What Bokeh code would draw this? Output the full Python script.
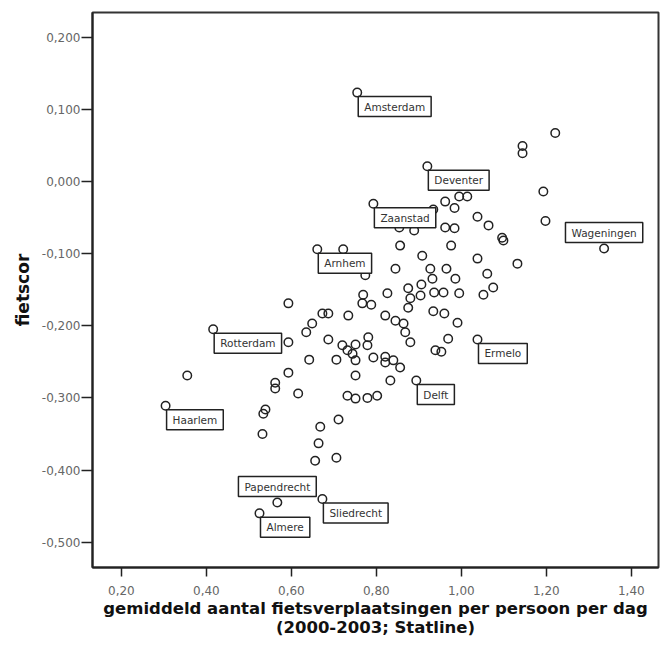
from bokeh.plotting import figure
from bokeh.models import ColumnDataSource, FixedTicker
from bokeh.core.properties import value
from bokeh.embed import file_html
from bokeh.resources import INLINE

# ---- data ----
x_ticks = [0.20, 0.40, 0.60, 0.80, 1.00, 1.20, 1.40]
x_tick_labels = ["0,20", "0,40", "0,60", "0,80", "1,00", "1,20", "1,40"]
y_ticks = [0.2, 0.1, 0.0, -0.1, -0.2, -0.3, -0.4, -0.5]
y_tick_labels = ["0,200", "0,100", "0,000", "-0,100", "-0,200", "-0,300", "-0,400", "-0,500"]

named_city = ["Amsterdam", "Deventer", "Zaanstad", "Wageningen", "Arnhem", "Rotterdam",
              "Haarlem", "Papendrecht", "Sliedrecht", "Almere", "Delft", "Ermelo"]
named_x = [0.755, 0.920, 0.793, 1.336, 0.661, 0.416, 0.304, 0.567, 0.673, 0.525, 0.894, 1.038]
named_y = [0.123, 0.021, -0.031, -0.093, -0.094, -0.205, -0.311, -0.445, -0.440, -0.460, -0.276, -0.219]

other_x = [1.221, 1.144, 1.144, 1.193, 1.198, 0.962, 0.995, 1.014, 0.984, 0.934,
           0.854, 0.889, 0.962, 0.984, 1.038, 1.064, 1.096, 1.099, 0.856, 0.976,
           0.908, 1.038, 1.132, 0.845, 0.927, 0.965, 0.932, 0.986, 1.061, 1.075,
           1.052, 0.906, 0.875, 0.904, 0.880, 0.936, 0.958, 0.995, 0.826, 0.769,
           0.767, 0.788, 0.875, 0.821, 0.845, 0.864, 0.868, 0.880, 0.934, 0.960,
           0.991, 0.969, 0.939, 0.953, 0.781, 0.779, 0.793, 0.821, 0.821, 0.840,
           0.856, 0.833, 0.732, 0.751, 0.779, 0.802, 0.722, 0.774, 0.593, 0.673,
           0.687, 0.734, 0.649, 0.635, 0.593, 0.687, 0.720, 0.732, 0.744, 0.751,
           0.751, 0.642, 0.706, 0.751, 0.593, 0.562, 0.562, 0.616, 0.355, 0.539,
           0.534, 0.532, 0.668, 0.711, 0.664, 0.656, 0.706]
other_y = [0.067, 0.049, 0.039, -0.014, -0.055, -0.028, -0.021, -0.021, -0.037, -0.039,
           -0.064, -0.068, -0.064, -0.065, -0.049, -0.061, -0.078, -0.082, -0.089, -0.089,
           -0.103, -0.107, -0.114, -0.121, -0.121, -0.121, -0.135, -0.135, -0.128, -0.147,
           -0.157, -0.143, -0.148, -0.158, -0.162, -0.154, -0.154, -0.155, -0.155, -0.157,
           -0.169, -0.171, -0.175, -0.186, -0.193, -0.197, -0.209, -0.223, -0.180, -0.183,
           -0.196, -0.218, -0.234, -0.236, -0.216, -0.227, -0.244, -0.243, -0.251, -0.248,
           -0.258, -0.276, -0.297, -0.301, -0.300, -0.297, -0.094, -0.130, -0.169, -0.183,
           -0.183, -0.186, -0.197, -0.209, -0.223, -0.219, -0.227, -0.234, -0.239, -0.226,
           -0.248, -0.247, -0.247, -0.269, -0.265, -0.279, -0.287, -0.294, -0.269, -0.316,
           -0.322, -0.350, -0.340, -0.330, -0.363, -0.387, -0.383]

x_title = "gemiddeld aantal fietsverplaatsingen per persoon per dag\n(2000-2003; Statline)"
y_title = "fietscor"

# ---- figure ----
p = figure(frame_width=566, frame_height=555,
           x_range=(0.132, 1.464), y_range=(-0.535, 0.234),
           output_backend="svg", toolbar_location=None,
           min_border_left=92, min_border_top=12, min_border_right=4, min_border_bottom=64,
           background_fill_color="white", border_fill_color="white")
p.grid.visible = False
p.outline_line_color = "#333333"
p.outline_line_width = 2

FONT = "DejaVu Sans"
for ax in (p.xaxis, p.yaxis):
    ax.axis_line_color = "#222222"
    ax.axis_line_width = 2
    ax.major_tick_line_color = "#222222"
    ax.major_tick_line_width = 1.5
    ax.major_tick_in = 0
    ax.minor_tick_line_color = None
    ax.major_label_text_font = FONT
    ax.major_label_text_font_size = "12px"
    ax.major_label_text_color = "#666666"
    ax.axis_label_text_font = FONT
    ax.axis_label_text_font_style = "bold"
    ax.axis_label_text_color = "#111111"

p.xaxis.ticker = FixedTicker(ticks=x_ticks)
p.xaxis.major_label_overrides = dict(zip(x_ticks, x_tick_labels))
p.xaxis.major_tick_out = 9
p.xaxis.major_label_standoff = 9
p.xaxis.axis_label = x_title
p.xaxis.axis_label_standoff = 1
p.xaxis.axis_label_text_font_size = "16.5px"
p.xaxis.axis_label_text_line_height = 1.05

p.yaxis.ticker = FixedTicker(ticks=y_ticks)
p.yaxis.major_label_overrides = dict(zip(y_ticks, y_tick_labels))
p.yaxis.major_tick_out = 11
p.yaxis.major_label_standoff = 1
p.yaxis.axis_label = y_title
p.yaxis.axis_label_standoff = 6
p.yaxis.axis_label_text_font_size = "17px"

all_x = other_x + named_x
all_y = other_y + named_y
p.scatter(all_x, all_y, marker="circle", size=8.5, fill_color=None,
          line_color="#222222", line_width=1.5)

above = {"Wageningen", "Papendrecht"}
src_br = ColumnDataSource(dict(
    x=[x for c, x in zip(named_city, named_x) if c not in above],
    y=[y for c, y in zip(named_city, named_y) if c not in above],
    t=[c for c in named_city if c not in above]))
src_ab = ColumnDataSource(dict(
    x=[x for c, x in zip(named_city, named_x) if c in above],
    y=[y for c, y in zip(named_city, named_y) if c in above],
    t=[c for c in named_city if c in above]))

common = dict(text="t", text_font=value(FONT), text_font_size="10.5px", text_color="#333333",
              background_fill_color="white", border_line_color="#222222",
              border_line_width=1.5, padding=(6, 4))
p.text(x="x", y="y", source=src_br, text_align="left", text_baseline="top",
       x_offset=1, y_offset=4, **common)
p.text(x="x", y="y", source=src_ab, text_align="center", text_baseline="bottom",
       x_offset=0, y_offset=-6, **common)

open("out.html", "w").write(file_html(p, INLINE))
